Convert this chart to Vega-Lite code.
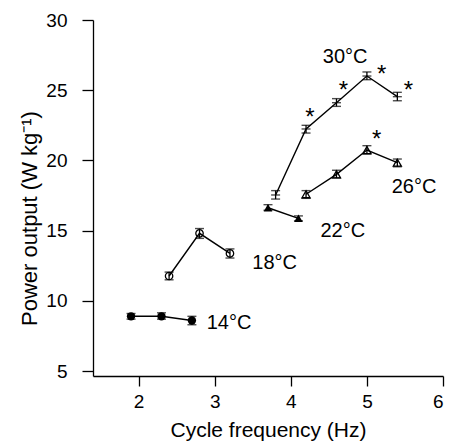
{
  "$schema": "https://vega.github.io/schema/vega-lite/v6.json",
  "width": 350,
  "height": 356,
  "autosize": {"type": "none"},
  "padding": {"left": 93, "top": 20, "right": 8, "bottom": 69},
  "background": "white",
  "config": {
    "view": {"stroke": null},
    "font": "Liberation Sans",
    "axis": {
      "grid": false,
      "domainColor": "black",
      "domainWidth": 1.3,
      "tickColor": "black",
      "tickWidth": 1.3,
      "labelFont": "Liberation Sans",
      "labelFontSize": 19,
      "labelColor": "black",
      "titleFont": "Liberation Sans",
      "titleFontWeight": "normal",
      "titleColor": "black"
    }
  },
  "datasets": {
    "pts": [
      {"series": "14", "f": 1.9, "p": 8.9, "lo": 8.7, "hi": 9.1},
      {"series": "14", "f": 2.3, "p": 8.9, "lo": 8.7, "hi": 9.15},
      {"series": "14", "f": 2.7, "p": 8.6, "lo": 8.3, "hi": 8.9},
      {"series": "18", "f": 2.4, "p": 11.77, "lo": 11.5, "hi": 12.05},
      {"series": "18", "f": 2.8, "p": 14.81, "lo": 14.45, "hi": 15.15},
      {"series": "18", "f": 3.2, "p": 13.38, "lo": 13.05, "hi": 13.7},
      {"series": "22", "f": 3.7, "p": 16.63, "lo": 16.45, "hi": 16.85},
      {"series": "22", "f": 4.1, "p": 15.88, "lo": 15.7, "hi": 16.05},
      {"series": "30", "f": 3.8, "p": 17.54, "lo": 17.25, "hi": 17.85},
      {"series": "30", "f": 4.2, "p": 22.24, "lo": 21.95, "hi": 22.5},
      {"series": "30", "f": 4.6, "p": 24.11, "lo": 23.85, "hi": 24.4},
      {"series": "30", "f": 5.0, "p": 26.01, "lo": 25.75, "hi": 26.3},
      {"series": "30", "f": 5.4, "p": 24.54, "lo": 24.25, "hi": 24.85},
      {"series": "26", "f": 4.2, "p": 17.59, "lo": 17.3, "hi": 17.85},
      {"series": "26", "f": 4.6, "p": 19.01, "lo": 18.75, "hi": 19.3},
      {"series": "26", "f": 5.0, "p": 20.74, "lo": 20.45, "hi": 21.05},
      {"series": "26", "f": 5.4, "p": 19.84, "lo": 19.55, "hi": 20.1}
    ],
    "labels": [
      {"text": "14°C", "f": 2.894, "p": 7.97},
      {"text": "18°C", "f": 3.494, "p": 12.29},
      {"text": "22°C", "f": 4.39, "p": 14.57},
      {"text": "26°C", "f": 5.326, "p": 17.66},
      {"text": "30°C", "f": 4.42, "p": 26.92}
    ],
    "stars": [
      {"f": 4.252, "p": 23.47},
      {"f": 4.69, "p": 25.44},
      {"f": 5.194, "p": 26.56},
      {"f": 5.544, "p": 25.44},
      {"f": 5.128, "p": 21.93}
    ]
  },
  "layer": [
    {
      "data": {"name": "pts"},
      "mark": {"type": "line", "color": "black", "strokeWidth": 1.4},
      "encoding": {
        "x": {"field": "f", "type": "quantitative", "scale": {"domain": [1.4, 6], "nice": false, "zero": false},
          "axis": {"values": [2, 3, 4, 5, 6], "format": "d", "tickSize": 10, "labelPadding": 6, "titlePadding": 8, "titleFontSize": 21, "title": "Cycle frequency (Hz)"}},
        "y": {"field": "p", "type": "quantitative", "scale": {"domain": [4.65, 30], "nice": false, "zero": false},
          "axis": {"values": [5, 10, 15, 20, 25, 30], "tickSize": 11, "labelPadding": 15, "titleFontSize": 22, "titleX": -64, "titleY": 198, "titleAngle": -90, "titleAlign": "center", "titleBaseline": "middle", "title": "Power output (W kg⁻¹)"}},
        "detail": {"field": "series"}
      }
    },
    {
      "data": {"name": "pts"},
      "mark": {"type": "rule", "color": "black", "strokeWidth": 1.3},
      "encoding": {
        "x": {"field": "f", "type": "quantitative"},
        "y": {"field": "lo", "type": "quantitative"},
        "y2": {"field": "hi"}
      }
    },
    {
      "data": {"name": "pts"},
      "mark": {"type": "tick", "orient": "horizontal", "color": "black", "size": 9, "thickness": 1.4},
      "encoding": {
        "x": {"field": "f", "type": "quantitative"},
        "y": {"field": "lo", "type": "quantitative"}
      }
    },
    {
      "data": {"name": "pts"},
      "mark": {"type": "tick", "orient": "horizontal", "color": "black", "size": 9, "thickness": 1.4},
      "encoding": {
        "x": {"field": "f", "type": "quantitative"},
        "y": {"field": "hi", "type": "quantitative"}
      }
    },
    {
      "data": {"name": "pts"},
      "transform": [{"filter": "datum.series == '30'"}],
      "mark": {"type": "tick", "orient": "horizontal", "color": "black", "size": 9, "thickness": 1.4},
      "encoding": {
        "x": {"field": "f", "type": "quantitative"},
        "y": {"field": "p", "type": "quantitative"}
      }
    },
    {
      "data": {"name": "pts"},
      "transform": [{"filter": "datum.series == '14'"}],
      "mark": {"type": "point", "shape": "circle", "filled": true, "color": "black", "size": 70, "opacity": 1},
      "encoding": {
        "x": {"field": "f", "type": "quantitative"},
        "y": {"field": "p", "type": "quantitative"}
      }
    },
    {
      "data": {"name": "pts"},
      "transform": [{"filter": "datum.series == '18'"}],
      "mark": {"type": "point", "shape": "circle", "filled": false, "color": "black", "strokeWidth": 1.3, "size": 55, "opacity": 1},
      "encoding": {
        "x": {"field": "f", "type": "quantitative"},
        "y": {"field": "p", "type": "quantitative"}
      }
    },
    {
      "data": {"name": "pts"},
      "transform": [{"filter": "datum.series == '22'"}],
      "mark": {"type": "point", "shape": "triangle-up", "filled": true, "color": "black", "size": 75, "opacity": 1},
      "encoding": {
        "x": {"field": "f", "type": "quantitative"},
        "y": {"field": "p", "type": "quantitative"}
      }
    },
    {
      "data": {"name": "pts"},
      "transform": [{"filter": "datum.series == '26'"}],
      "mark": {"type": "point", "shape": "triangle-up", "filled": false, "color": "black", "strokeWidth": 1.3, "size": 65, "opacity": 1},
      "encoding": {
        "x": {"field": "f", "type": "quantitative"},
        "y": {"field": "p", "type": "quantitative"}
      }
    },
    {
      "data": {"name": "labels"},
      "mark": {"type": "text", "font": "Liberation Sans", "fontSize": 20, "align": "left", "baseline": "alphabetic", "color": "black"},
      "encoding": {
        "x": {"field": "f", "type": "quantitative"},
        "y": {"field": "p", "type": "quantitative"},
        "text": {"field": "text"}
      }
    },
    {
      "data": {"name": "stars"},
      "mark": {"type": "text", "font": "Liberation Sans", "fontSize": 24, "align": "center", "baseline": "alphabetic", "dy": 13.5, "color": "black", "text": "*"},
      "encoding": {
        "x": {"field": "f", "type": "quantitative"},
        "y": {"field": "p", "type": "quantitative"}
      }
    }
  ]
}
